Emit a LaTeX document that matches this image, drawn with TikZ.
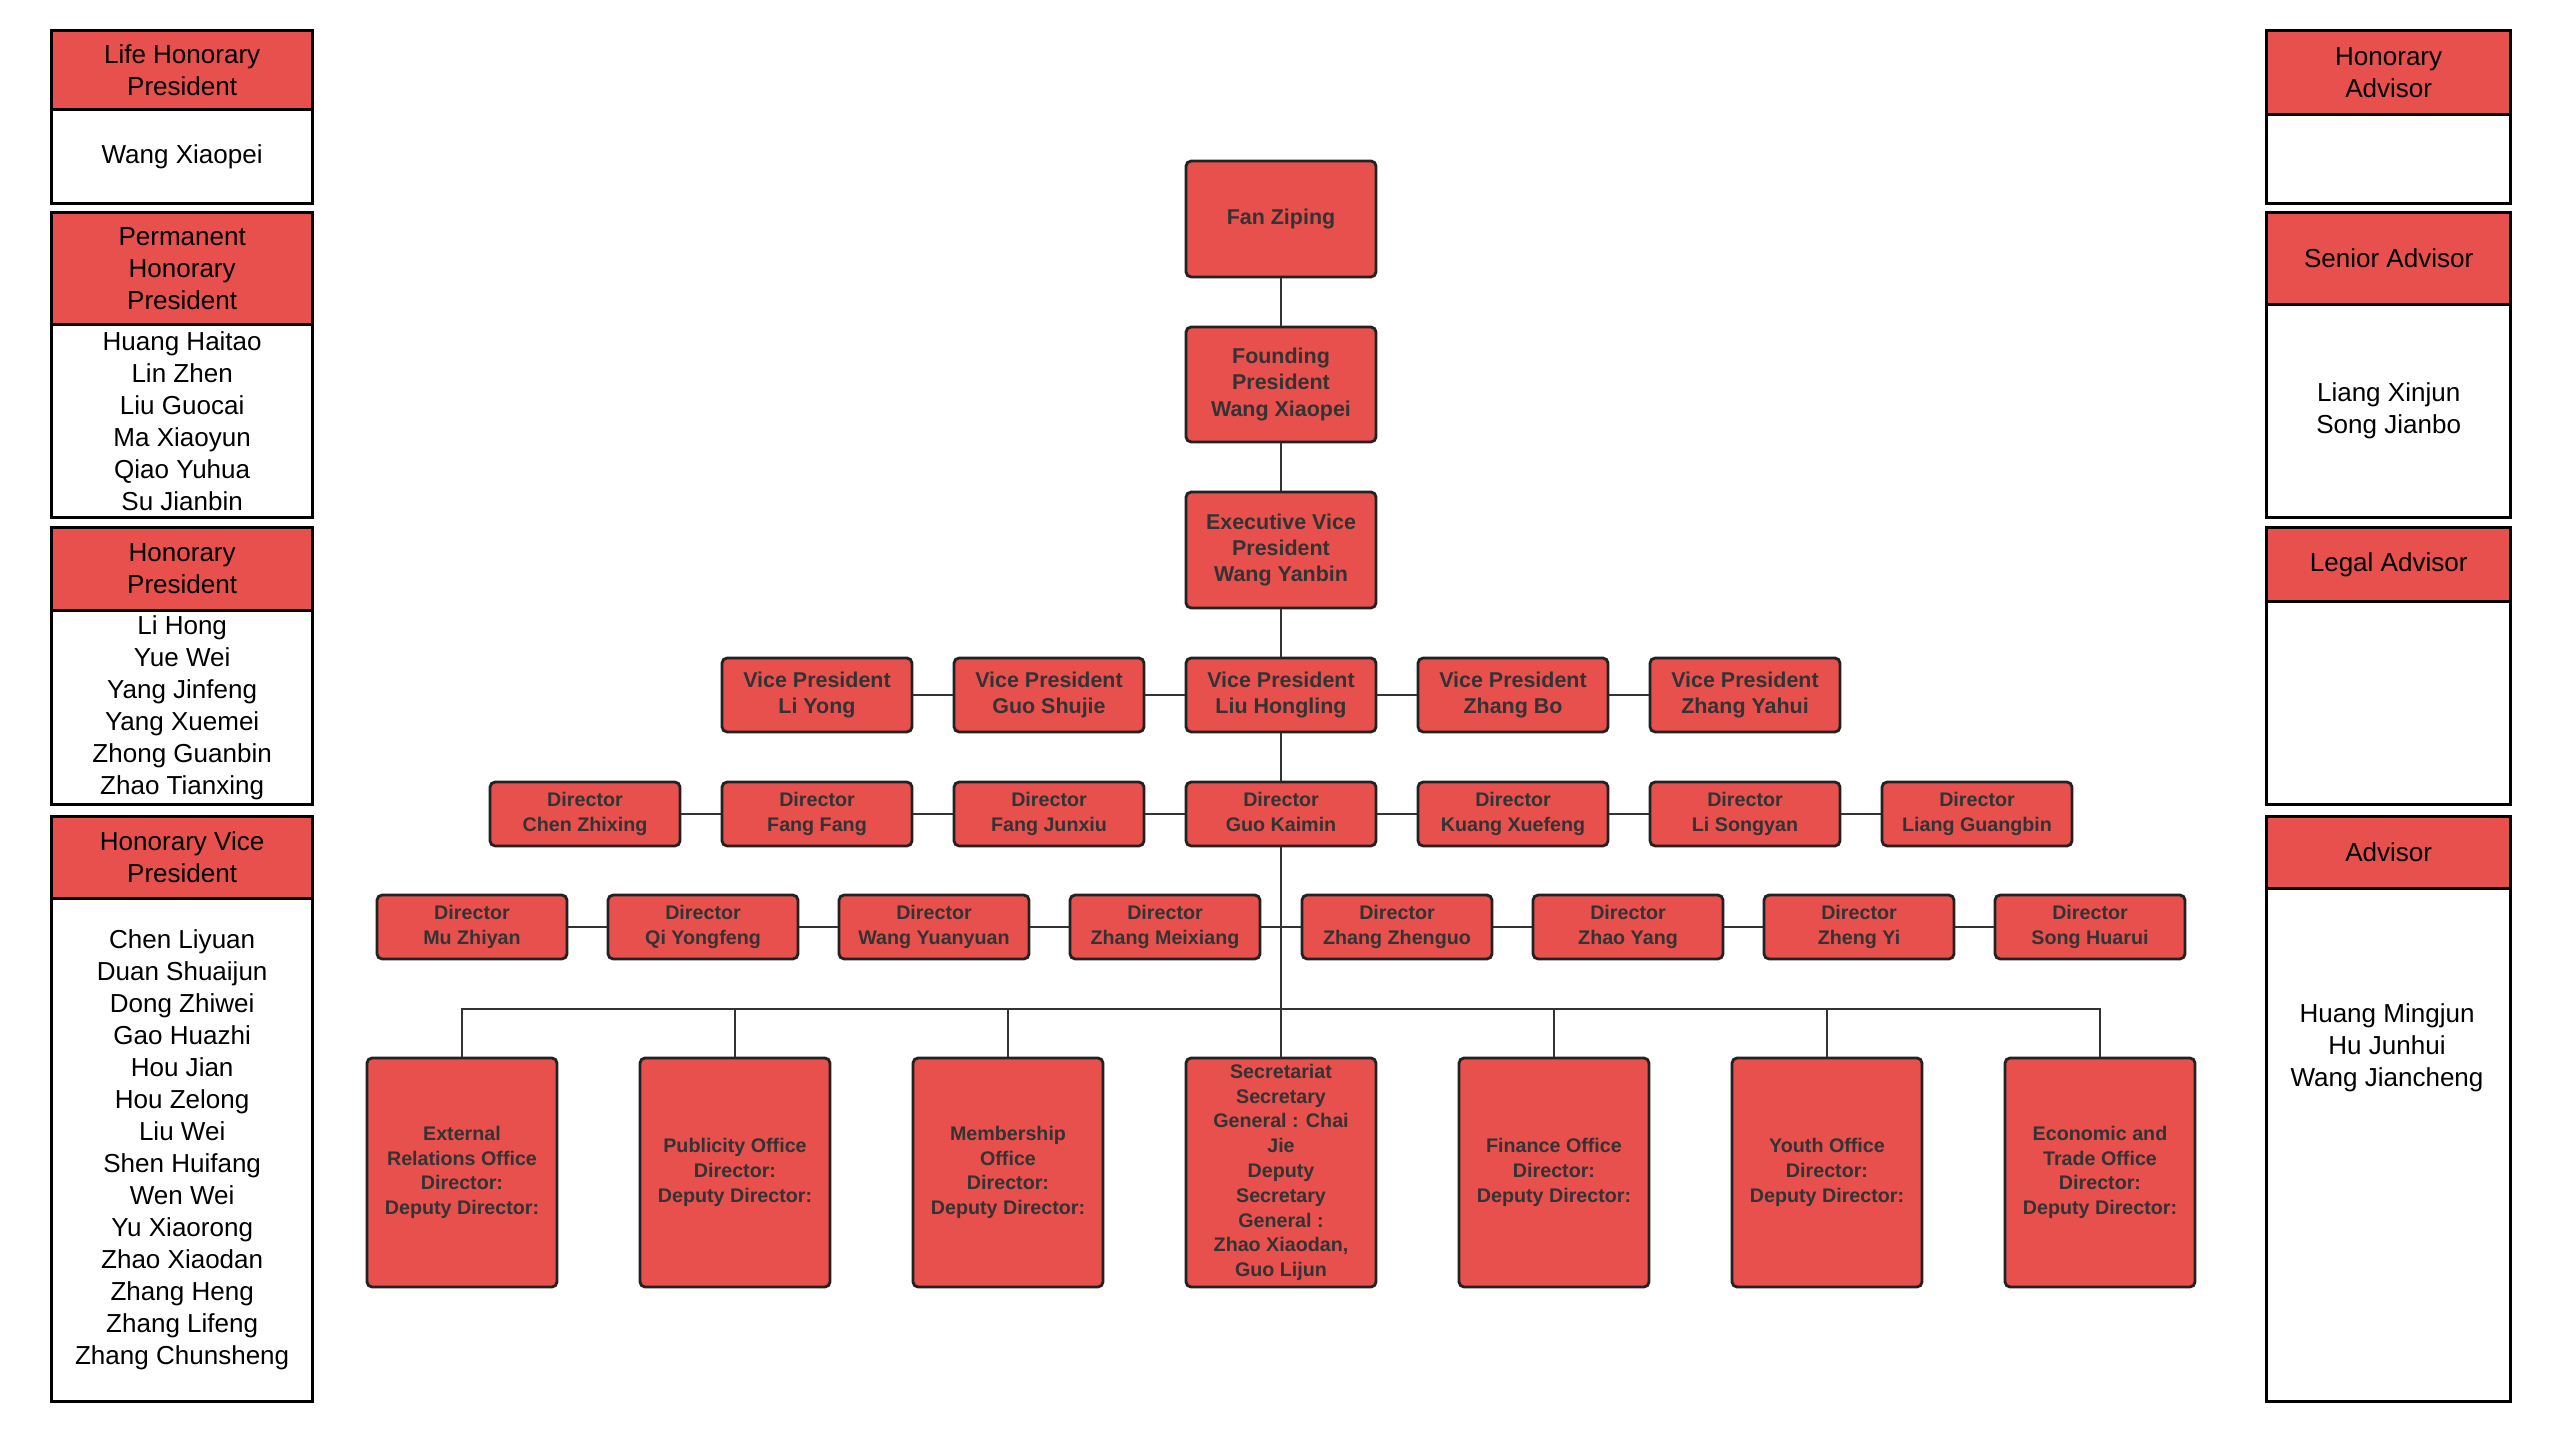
\documentclass[tikz,border=0pt]{standalone}
\usepackage{fontspec}
\setmainfont{Liberation Sans}
\usepackage{xcolor}

\definecolor{boxred}{RGB}{231,80,77}
\definecolor{boxline}{RGB}{34,34,34}
\definecolor{boxtext}{RGB}{51,51,51}
\definecolor{linkgray}{RGB}{51,51,51}

\tikzset{
  member/.style={draw=boxline, fill=boxred, line width=0.8pt, rounded corners=1.5pt, text=boxtext, align=center, inner sep=1pt, minimum width=1.9cm, font=\fontsize{6.1}{7.4}\selectfont\bfseries, execute at end node={\vphantom{g}}},
  director/.style={member, minimum height=0.64cm, font=\fontsize{5.6}{7}\selectfont\bfseries},
  office/.style={member, minimum height=2.29cm, inner ysep=0.5pt, font=\fontsize{5.6}{7.05}\selectfont\bfseries},
  link/.style={draw=linkgray, line width=0.6pt},
  paneltitle/.style={draw=black, fill=boxred, line width=0.9pt, anchor=north west, align=center, inner sep=0pt, font=\fontsize{7.4}{9.1}\selectfont},
  panelbody/.style={paneltitle, fill=white},
  leftpanel/.style={minimum width=2.61cm},
  rightpanel/.style={minimum width=2.44cm}
}

\begin{document}
\begin{tikzpicture}[x=0.01cm, y=-0.01cm]

\useasboundingbox (0,0) rectangle (2560,1440);

% left column
\node[paneltitle, leftpanel, minimum height=0.79cm] (lifehead) at (50,29) {Life Honorary\\President};
\node[panelbody, leftpanel, minimum height=0.94cm] (lifebody) at (50,108) {Wang Xiaopei};

\node[paneltitle, leftpanel, minimum height=1.12cm] (permhead) at (50,211) {Permanent\\Honorary\\President};
\node[panelbody, leftpanel, minimum height=1.93cm] (permbody) at (50,323) {Huang Haitao\\Lin Zhen\\Liu Guocai\\Ma Xiaoyun\\Qiao Yuhua\\Su Jianbin};

\node[paneltitle, leftpanel, minimum height=0.83cm] (honhead) at (50,526) {Honorary\\President};
\node[panelbody, leftpanel, minimum height=1.94cm] (honbody) at (50,609) {Li Hong\\Yue Wei\\Yang Jinfeng\\Yang Xuemei\\Zhong Guanbin\\Zhao Tianxing};

\node[paneltitle, leftpanel, minimum height=0.82cm] (hvphead) at (50,815) {Honorary Vice\\President};
\node[panelbody, leftpanel, minimum height=5.03cm] (hvpbody) at (50,897) {Chen Liyuan\\Duan Shuaijun\\Dong Zhiwei\\Gao Huazhi\\Hou Jian\\Hou Zelong\\Liu Wei\\Shen Huifang\\Wen Wei\\Yu Xiaorong\\Zhao Xiaodan\\Zhang Heng\\Zhang Lifeng\\Zhang Chunsheng};

% right column
\node[paneltitle, rightpanel, minimum height=0.84cm] (hadvhead) at (2265,29) {Honorary\\Advisor};
\node[panelbody, rightpanel, minimum height=0.89cm] (hadvbody) at (2265,113) {};

\node[paneltitle, rightpanel, minimum height=0.92cm] (sadvhead) at (2265,211) {Senior Advisor};
\node[panelbody, rightpanel, minimum height=2.13cm] (sadvbody) at (2265,303) {Liang Xinjun\\Song Jianbo};

\node[paneltitle, rightpanel, minimum height=0.74cm] (ladvhead) at (2265,526) {Legal Advisor};
\node[panelbody, rightpanel, minimum height=2.03cm] (ladvbody) at (2265,600) {};

\node[paneltitle, rightpanel, minimum height=0.72cm] (advhead) at (2265,815) {Advisor};
\node[panelbody, rightpanel, minimum height=5.13cm] (advbody) at (2265,887) {};
\node[align=center, font=\fontsize{7.4}{9.1}\selectfont] (advnames) at (2387,1048) {Huang Mingjun\\Hu Junhui\\Wang Jiancheng};

% tree
\node[member, minimum height=1.16cm] (fan) at (1281,219) {Fan Ziping};
\node[member, minimum height=1.15cm] (founder) at (1281,384.5) {Founding\\President\\Wang Xiaopei};
\node[member, minimum height=1.16cm] (exec) at (1281,550) {Executive Vice\\President\\Wang Yanbin};

\node[member, minimum height=0.74cm] (vp1) at (817,695) {Vice President\\Li Yong};
\node[member, minimum height=0.74cm] (vp2) at (1049,695) {Vice President\\Guo Shujie};
\node[member, minimum height=0.74cm] (vp3) at (1281,695) {Vice President\\Liu Hongling};
\node[member, minimum height=0.74cm] (vp4) at (1513,695) {Vice President\\Zhang Bo};
\node[member, minimum height=0.74cm] (vp5) at (1745,695) {Vice President\\Zhang Yahui};

\node[director] (d1) at (585,814) {Director\\Chen Zhixing};
\node[director] (d2) at (817,814) {Director\\Fang Fang};
\node[director] (d3) at (1049,814) {Director\\Fang Junxiu};
\node[director] (d4) at (1281,814) {Director\\Guo Kaimin};
\node[director] (d5) at (1513,814) {Director\\Kuang Xuefeng};
\node[director] (d6) at (1745,814) {Director\\Li Songyan};
\node[director] (d7) at (1977,814) {Director\\Liang Guangbin};

\node[director] (e1) at (472,927) {Director\\Mu Zhiyan};
\node[director] (e2) at (703,927) {Director\\Qi Yongfeng};
\node[director] (e3) at (934,927) {Director\\Wang Yuanyuan};
\node[director] (e4) at (1165,927) {Director\\Zhang Meixiang};
\node[director] (e5) at (1397,927) {Director\\Zhang Zhenguo};
\node[director] (e6) at (1628,927) {Director\\Zhao Yang};
\node[director] (e7) at (1859,927) {Director\\Zheng Yi};
\node[director] (e8) at (2090,927) {Director\\Song Huarui};

\node[office] (o1) at (462,1172.5) {External\\Relations Office\\Director:\\Deputy Director:};
\node[office] (o2) at (735,1172.5) {Publicity Office\\Director:\\Deputy Director:};
\node[office] (o3) at (1008,1172.5) {Membership\\Office\\Director:\\Deputy Director:};
\node[office] (o4) at (1281,1172.5) {Secretariat\\Secretary\\General : Chai\\Jie\\Deputy\\Secretary\\General :\\Zhao Xiaodan,\\Guo Lijun};
\node[office] (o5) at (1554,1172.5) {Finance Office\\Director:\\Deputy Director:};
\node[office] (o6) at (1827,1172.5) {Youth Office\\Director:\\Deputy Director:};
\node[office] (o7) at (2100,1172.5) {Economic and\\Trade Office\\Director:\\Deputy Director:};

\coordinate (bus) at (1281,1009);

% connectors
\draw[link] (fan) -- (founder);
\draw[link] (founder) -- (exec);
\draw[link] (exec) -- (vp3);
\draw[link] (vp1) -- (vp2);
\draw[link] (vp2) -- (vp3);
\draw[link] (vp3) -- (vp4);
\draw[link] (vp4) -- (vp5);
\draw[link] (vp3) -- (d4);

\draw[link] (d1) -- (d2);
\draw[link] (d2) -- (d3);
\draw[link] (d3) -- (d4);
\draw[link] (d4) -- (d5);
\draw[link] (d5) -- (d6);
\draw[link] (d6) -- (d7);
\draw[link] (d4) -- (bus);

\draw[link] (e1) -- (e2);
\draw[link] (e2) -- (e3);
\draw[link] (e3) -- (e4);
\draw[link] (e4) -- (e5);
\draw[link] (e5) -- (e6);
\draw[link] (e6) -- (e7);
\draw[link] (e7) -- (e8);

\draw[link] (o1.north) |- (bus) -| (o7.north);
\draw[link] (o2.north) -- (o2.north |- bus);
\draw[link] (o3.north) -- (o3.north |- bus);
\draw[link] (o4.north) -- (bus);
\draw[link] (o5.north) -- (o5.north |- bus);
\draw[link] (o6.north) -- (o6.north |- bus);

\end{tikzpicture}
\end{document}
